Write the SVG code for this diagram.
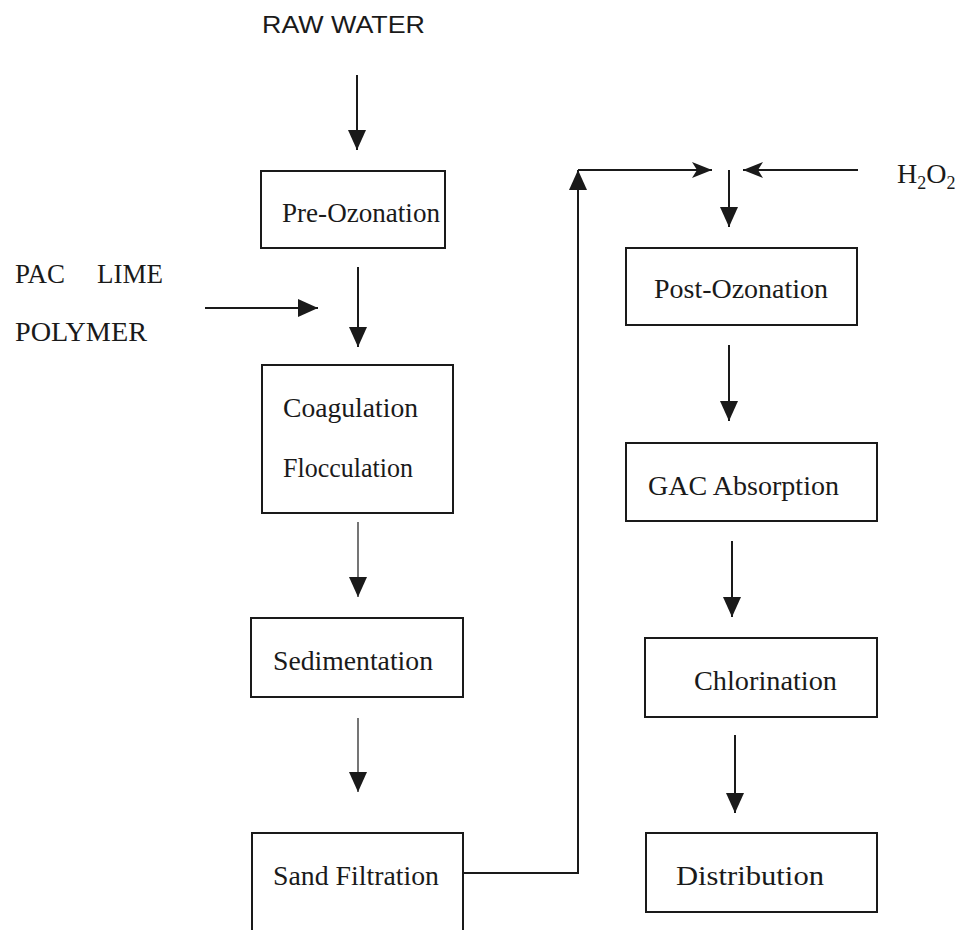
<svg xmlns="http://www.w3.org/2000/svg" width="961" height="930" viewBox="0 0 961 930">
<style>
.box{fill:#fff;stroke:#1a1a1a;stroke-width:2}
.t{font-family:"Liberation Serif","Times New Roman",serif;font-size:28px;fill:#1a1a1a}
.s{font-family:"Liberation Sans",Arial,sans-serif;font-size:24px;fill:#1a1a1a}
.c{fill:none;stroke:#1a1a1a;stroke-width:2}
.thin{stroke-width:1.2}
</style>
<defs>
<marker id="ah" markerUnits="userSpaceOnUse" markerWidth="20" markerHeight="18" refX="20" refY="9" orient="auto">
<path d="M0,0 L20,9 L0,18 z" fill="#1a1a1a"/>
</marker>
<marker id="an" markerUnits="userSpaceOnUse" markerWidth="20" markerHeight="16" refX="20" refY="8" orient="auto">
<path d="M0,0 L20,8 L0,16 L5,8 z" fill="#1a1a1a"/>
</marker>
</defs>
<rect width="961" height="930" fill="#fff"/>
<text class="s" x="262" y="33" textLength="163" lengthAdjust="spacingAndGlyphs">RAW WATER</text>
<text class="t" x="15" y="283" textLength="50" lengthAdjust="spacingAndGlyphs">PAC</text>
<text class="t" x="97" y="283" textLength="66" lengthAdjust="spacingAndGlyphs">LIME</text>
<text class="t" x="15" y="341" textLength="132" lengthAdjust="spacingAndGlyphs">POLYMER</text>
<text class="t" x="897" y="183">H<tspan font-size="18" dy="6">2</tspan><tspan dy="-6">O</tspan><tspan font-size="18" dy="6">2</tspan></text>
<g id="connectors">
<path class="c" d="M357,75 V150" marker-end="url(#ah)"/>
<path class="c" d="M205,308 H318" marker-end="url(#ah)"/>
<path class="c" d="M358,267 V347" marker-end="url(#ah)"/>
<path class="c thin" d="M358,522 V597" marker-end="url(#ah)"/>
<path class="c thin" d="M358,718 V792" marker-end="url(#ah)"/>
<path class="c" d="M463,873 H578 V170" marker-end="url(#ah)"/>
<path class="c" d="M578,170 H712" marker-end="url(#an)"/>
<path class="c" d="M858,170 H743" marker-end="url(#an)"/>
<path class="c" d="M729,170 V227" marker-end="url(#ah)"/>
<path class="c" d="M729,345 V421" marker-end="url(#ah)"/>
<path class="c" d="M732,541 V617" marker-end="url(#ah)"/>
<path class="c" d="M735,735 V813" marker-end="url(#ah)"/>
</g>
<g id="pre-ozonation"><rect class="box" x="261" y="171" width="184" height="77"/><text class="t" x="282" y="222" textLength="158" lengthAdjust="spacingAndGlyphs">Pre-Ozonation</text></g>
<g id="coagulation"><rect class="box" x="262" y="365" width="191" height="148"/><text class="t" x="283" y="417" textLength="135" lengthAdjust="spacingAndGlyphs">Coagulation</text><text class="t" x="283" y="477" textLength="130" lengthAdjust="spacingAndGlyphs">Flocculation</text></g>
<g id="sedimentation"><rect class="box" x="251" y="618" width="212" height="79"/><text class="t" x="273" y="670" textLength="160" lengthAdjust="spacingAndGlyphs">Sedimentation</text></g>
<g id="sand-filtration"><rect class="box" x="252" y="833" width="211" height="112"/><text class="t" x="273" y="885" textLength="166" lengthAdjust="spacingAndGlyphs">Sand Filtration</text></g>
<g id="post-ozonation"><rect class="box" x="626" y="248" width="231" height="77"/><text class="t" x="654" y="298" textLength="174" lengthAdjust="spacingAndGlyphs">Post-Ozonation</text></g>
<g id="gac-absorption"><rect class="box" x="626" y="443" width="251" height="78"/><text class="t" x="648" y="495" textLength="191" lengthAdjust="spacingAndGlyphs">GAC Absorption</text></g>
<g id="chlorination"><rect class="box" x="645" y="638" width="232" height="79"/><text class="t" x="694" y="690" textLength="143" lengthAdjust="spacingAndGlyphs">Chlorination</text></g>
<g id="distribution"><rect class="box" x="646" y="833" width="231" height="79"/><text class="t" x="676" y="885" textLength="148" lengthAdjust="spacingAndGlyphs">Distribution</text></g>
</svg>
